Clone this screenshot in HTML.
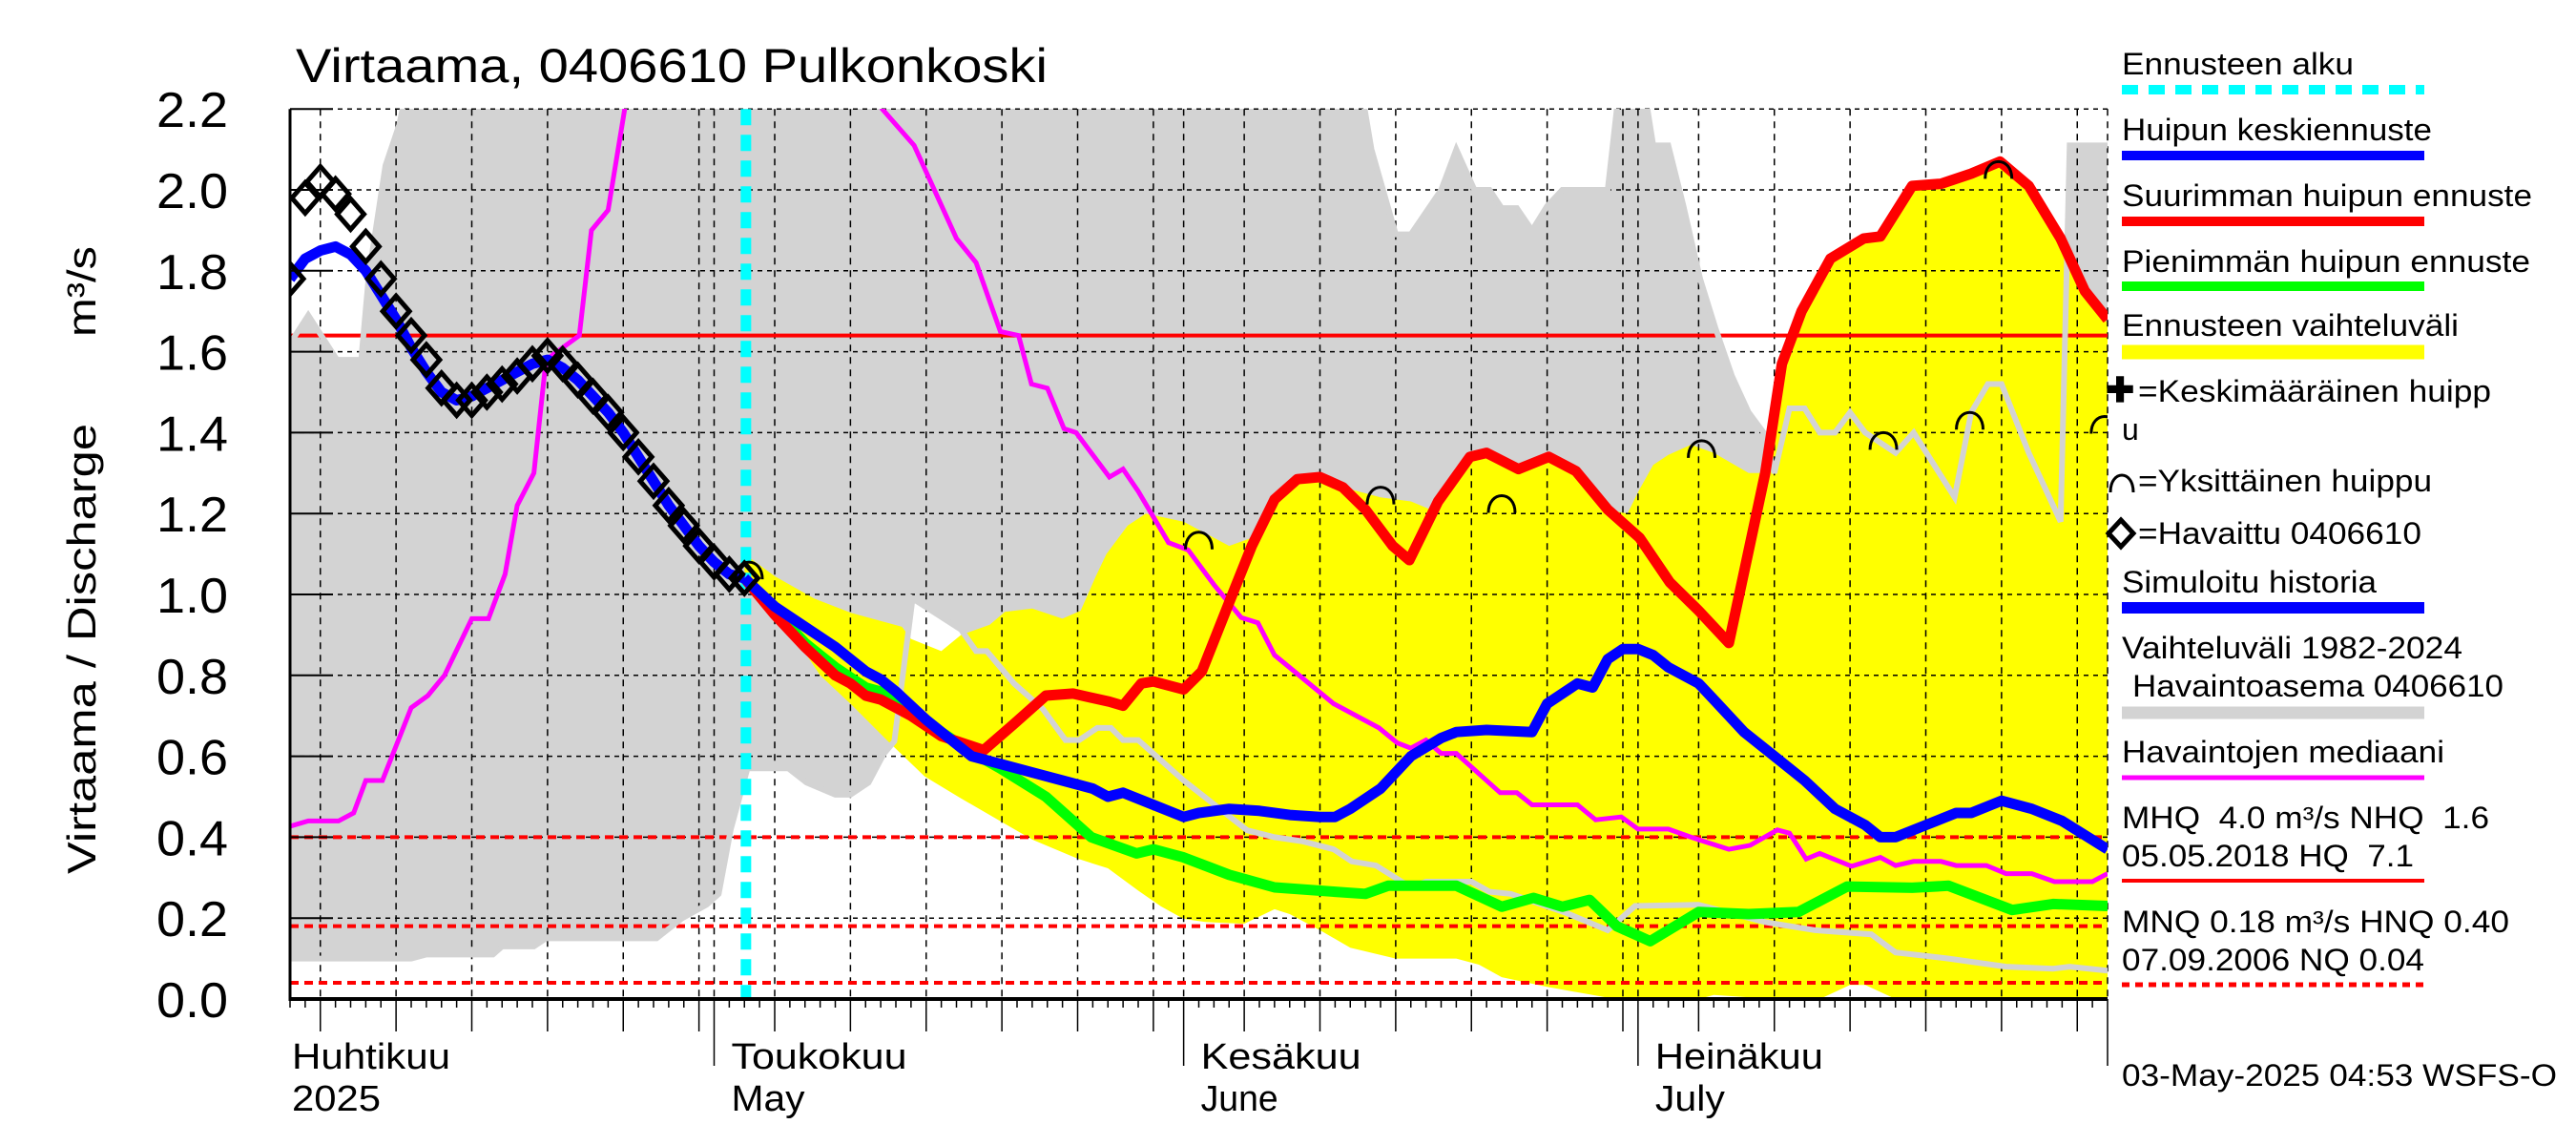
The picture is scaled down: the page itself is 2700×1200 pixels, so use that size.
<!DOCTYPE html>
<html><head><meta charset="utf-8"><title>Virtaama 0406610 Pulkonkoski</title>
<style>html,body{margin:0;padding:0;background:#fff;}svg{display:block;font-family:"Liberation Sans",sans-serif;}</style>
</head><body>
<svg id="chart" xmlns="http://www.w3.org/2000/svg" width="2700" height="1200" viewBox="0 0 2700 1200">
<defs><clipPath id="plotclip"><rect x="304" y="114" width="1905" height="933"/></clipPath></defs>
<rect x="0" y="0" width="2700" height="1200" fill="#fff"/>
<g id="bands" clip-path="url(#plotclip)"></g>
<g id="grid"></g>
<g id="series" clip-path="url(#plotclip)"></g>
<g id="axes"></g>
<text x="310" y="86" font-size="50" textLength="788" lengthAdjust="spacingAndGlyphs">Virtaama, 0406610 Pulkonkoski</text>
<text transform="translate(100,916) rotate(-90)" font-size="42" textLength="472" lengthAdjust="spacingAndGlyphs">Virtaama / Discharge</text>
<text transform="translate(100,353) rotate(-90)" font-size="42" textLength="95" lengthAdjust="spacingAndGlyphs">m³/s</text>
<g id="legend" font-size="32">
<text x="2224" y="78" textLength="243" lengthAdjust="spacingAndGlyphs">Ennusteen alku</text>
<line x1="2224" y1="94" x2="2541" y2="94" stroke="#00ffff" stroke-width="10" stroke-dasharray="17,11"/>
<text x="2224" y="147" textLength="325" lengthAdjust="spacingAndGlyphs">Huipun keskiennuste</text>
<line x1="2224" y1="163" x2="2541" y2="163" stroke="#0000ff" stroke-width="10"/>
<text x="2224" y="216" textLength="430" lengthAdjust="spacingAndGlyphs">Suurimman huipun ennuste</text>
<line x1="2224" y1="232" x2="2541" y2="232" stroke="#ff0000" stroke-width="10"/>
<text x="2224" y="285" textLength="428" lengthAdjust="spacingAndGlyphs">Pienimmän huipun ennuste</text>
<line x1="2224" y1="300" x2="2541" y2="300" stroke="#00ff00" stroke-width="10"/>
<text x="2224" y="352" textLength="353" lengthAdjust="spacingAndGlyphs">Ennusteen vaihteluväli</text>
<line x1="2224" y1="369" x2="2541" y2="369" stroke="#ffff00" stroke-width="15"/>
<text x="2207" y="421" font-size="36" font-weight="bold">✚</text>
<text x="2241" y="421" textLength="370" lengthAdjust="spacingAndGlyphs">=Keskimääräinen huipp</text>
<text x="2224" y="461">u</text>
<path d="M2212 516 C2212 492,2236 492,2236 516" fill="none" stroke="#000" stroke-width="3"/>
<text x="2241" y="515" textLength="308" lengthAdjust="spacingAndGlyphs">=Yksittäinen huippu</text>
<path d="M2223 545 L2236 559 L2223 573 L2210 559 Z" fill="none" stroke="#000" stroke-width="5"/>
<text x="2241" y="570" textLength="297" lengthAdjust="spacingAndGlyphs">=Havaittu 0406610</text>
<text x="2224" y="621" textLength="267" lengthAdjust="spacingAndGlyphs">Simuloitu historia</text>
<line x1="2224" y1="637" x2="2541" y2="637" stroke="#0000ff" stroke-width="12"/>
<text x="2224" y="690" textLength="357" lengthAdjust="spacingAndGlyphs">Vaihteluväli 1982-2024</text>
<text x="2235" y="730" textLength="389" lengthAdjust="spacingAndGlyphs">Havaintoasema 0406610</text>
<line x1="2224" y1="747" x2="2541" y2="747" stroke="#d3d3d3" stroke-width="13"/>
<text x="2224" y="799" textLength="338" lengthAdjust="spacingAndGlyphs">Havaintojen mediaani</text>
<line x1="2224" y1="815" x2="2541" y2="815" stroke="#ff00ff" stroke-width="5"/>
<text x="2224" y="868" textLength="385" lengthAdjust="spacingAndGlyphs" xml:space="preserve">MHQ  4.0 m³/s NHQ  1.6</text>
<text x="2224" y="908" textLength="306" lengthAdjust="spacingAndGlyphs" xml:space="preserve">05.05.2018 HQ  7.1</text>
<line x1="2224" y1="923" x2="2541" y2="923" stroke="#ff0000" stroke-width="4"/>
<text x="2224" y="977" textLength="406" lengthAdjust="spacingAndGlyphs">MNQ 0.18 m³/s HNQ 0.40</text>
<text x="2224" y="1017" textLength="317" lengthAdjust="spacingAndGlyphs">07.09.2006 NQ 0.04</text>
<line x1="2224" y1="1032" x2="2541" y2="1032" stroke="#ff0000" stroke-width="5" stroke-dasharray="8,6"/>
<text x="2224" y="1138" textLength="456" lengthAdjust="spacingAndGlyphs">03-May-2025 04:53 WSFS-O</text>
</g>
</svg>
<script>
// ---- data (days since 1 April 2025, discharge m3/s) ----
const obsDays = [2,3,4,5,6,7,8,9,10,11,12,13,14,15,16,17,18,19,20,21,22,23,24,25,26,27,28,29,30,31,32];
const obsValues = [1.78,1.98,2.02,1.99,1.94,1.86,1.78,1.70,1.64,1.58,1.51,1.48,1.48,1.50,1.52,1.54,1.57,1.59,1.57,1.53,1.49,1.45,1.40,1.34,1.28,1.22,1.17,1.12,1.08,1.05,1.04];
const simDays = [2,3,4,5,6,7,8,9,10,11,12,13,14,15,16,17,18,19,20,21,22,23,24,25,26,27,28,29,30,31,32];
const simValues = [1.78,1.83,1.85,1.86,1.84,1.80,1.74,1.68,1.61,1.55,1.50,1.48,1.49,1.51,1.53,1.55,1.57,1.58,1.56,1.53,1.49,1.45,1.40,1.34,1.28,1.22,1.17,1.12,1.08,1.05,1.04];
const meanDays = [32,34,36,38,40,41,42,44,46,47,49,51,53,55,56,57,59,61,62,64,66,68,70,71,72,74,76,78,79,81,84,85,87,88,89,90,91,92,93,95,96,98,100,102,104,106,107,108,110,112,113,115,117,119,122];
const meanValues = [1.04,0.97,0.92,0.87,0.81,0.79,0.76,0.69,0.63,0.60,0.58,0.56,0.54,0.52,0.50,0.51,0.48,0.45,0.46,0.47,0.465,0.455,0.45,0.45,0.47,0.52,0.60,0.645,0.66,0.665,0.66,0.73,0.78,0.77,0.84,0.865,0.865,0.85,0.82,0.78,0.74,0.66,0.60,0.54,0.47,0.43,0.40,0.40,0.43,0.46,0.46,0.49,0.47,0.44,0.37];
const maxDays = [32,34,36,38,39,40,41,43,45,47.8,49.8,51.9,53.7,56.1,57,58.2,59,61,62.2,64,65.5,67,68.5,70,71.5,73,74.8,75.9,77.8,79.9,81,83.1,85.1,86.9,89,91.1,93.1,95,97,99.4,100.5,101.8,103.7,105.9,107,109.1,111,113,114.9,116.8,118.9,120.5,122];
const maxValues = [1.04,0.95,0.87,0.80,0.78,0.75,0.74,0.70,0.65,0.615,0.68,0.75,0.755,0.735,0.725,0.78,0.785,0.765,0.81,0.98,1.12,1.235,1.285,1.29,1.265,1.21,1.12,1.085,1.23,1.34,1.35,1.31,1.34,1.305,1.21,1.14,1.03,0.96,0.88,1.30,1.57,1.70,1.83,1.88,1.885,2.01,2.015,2.04,2.07,2.01,1.88,1.75,1.68];
const minDays = [32,34,36,38,40,41,43,45,47,48.9,51.9,54.9,57.9,59,61,64,67,71,73,74.5,79,82,84.1,86,87.8,89.6,91.8,95,98.3,101.6,104.8,109.1,111.5,115.7,118.4,122];
const minValues = [1.04,0.96,0.88,0.82,0.77,0.76,0.72,0.66,0.61,0.57,0.50,0.40,0.36,0.37,0.35,0.307,0.276,0.265,0.26,0.28,0.28,0.228,0.25,0.228,0.245,0.18,0.143,0.215,0.21,0.215,0.278,0.275,0.28,0.22,0.235,0.23];
const rangeUpDays = [32,34,36.6,39,42.4,43,45,46.3,48.2,49.2,51,53,54.2,55.2,55.9,57.3,58.5,61,64,65.5,67,68.5,70,72,74,76,77.3,79.9,81,83,85,87,89,90.3,91.1,92,93,94.5,96,98.3,99.4,100.5,101.8,103.7,106,107,109,111,113,114.9,116.8,118.9,120.5,122];
const rangeUpValues = [1.10,1.045,0.99,0.955,0.92,0.89,0.86,0.90,0.925,0.957,0.965,0.94,0.96,1.045,1.10,1.17,1.20,1.18,1.12,1.14,1.24,1.29,1.29,1.26,1.24,1.23,1.21,1.34,1.36,1.32,1.34,1.31,1.21,1.20,1.26,1.32,1.345,1.37,1.35,1.30,1.30,1.57,1.70,1.83,1.88,1.885,2.01,2.015,2.04,2.07,2.01,1.88,1.75,1.67];
const rangeLowDays = [32,32.5,35,37,39,41.4,43.9,46.3,49.2,51,54,56,58,59.5,61,62.5,65,67,68,70,72,75,79,80.5,82,85,88,89.5,95,96,100,103,105,106,108,122];
const rangeLowValues = [1.04,1.007,0.913,0.80,0.73,0.64,0.55,0.496,0.433,0.394,0.347,0.323,0.268,0.229,0.198,0.19,0.186,0.222,0.21,0.17,0.127,0.10,0.10,0.085,0.054,0.03,0.01,0.0,0.0,0.01,0.0,0.0,0.035,0.035,0.0,0.0];
const histUpDays = [2,3.2,5.1,6.7,7.2,8.3,9.2,10,72.5,73.4,75,76,78,79,80.2,81.2,82,83,84,85,86,89,89.9,91.2,92,93,94,95.1,96.1,97.2,98.3,99.3,100,101,102,103,104,105,106,108,109.2,111.9,113,114.1,115,116.8,118.9,119.5,122];
const histUpValues = [1.62,1.69,1.58,1.58,1.79,2.06,2.16,2.3,2.3,2.10,1.89,1.89,2.0,2.10,2.0,2.0,1.955,1.955,1.90,1.96,2.0,2.0,2.3,2.3,2.11,2.11,1.96,1.78,1.66,1.54,1.45,1.40,1.30,1.46,1.46,1.40,1.40,1.45,1.40,1.35,1.40,1.24,1.45,1.52,1.52,1.35,1.18,2.11,2.11];
const histLowDays = [2,10,11,15.4,16,18.1,18.9,26.2,27.9,29.5,30.3,31.1,32.2,34.9,36.1,38,39,40.2,41.2,41.9,43.1,46.3,47.3,48,49.8,51.7,53.2,54.1,55.3,56.2,57,58,61,65.2,67,68.8,70.9,72.1,73.7,76,77,80,81.2,82.6,86.3,89,90.8,95,99.4,102.7,106.4,108,111.5,115.3,118.4,119.5,122];
const histLowValues = [0.10,0.10,0.11,0.11,0.13,0.13,0.15,0.15,0.20,0.233,0.26,0.42,0.57,0.57,0.535,0.505,0.505,0.535,0.606,0.637,0.99,0.913,0.86,0.86,0.78,0.717,0.64,0.64,0.67,0.67,0.64,0.64,0.54,0.417,0.40,0.39,0.37,0.34,0.33,0.276,0.29,0.29,0.265,0.26,0.212,0.17,0.23,0.233,0.19,0.17,0.16,0.115,0.10,0.08,0.075,0.08,0.07];
const medianDays = [2,3.2,5.2,6.2,7,8.1,10,11.1,12.2,14,15.1,16.2,17,18.1,18.9,21.1,21.9,23,24.1,25.5,39.5,41.1,43.2,46,47.3,48.9,50.1,50.95,52,53.1,53.9,56.1,57,58,60,61.3,63,64.8,65.9,67,70.9,73.9,75.1,76,77,78,79,81.9,83,84,87,88.2,89.9,91,93,94.5,97,98.4,100.2,101,102.1,103,105.1,107,108,109.2,111,112,114,115.3,117,118.5,121,122];
const medianValues = [0.427,0.44,0.44,0.46,0.54,0.54,0.72,0.75,0.80,0.94,0.94,1.05,1.22,1.30,1.58,1.64,1.90,1.95,2.2,2.7,2.7,2.2,2.11,1.88,1.82,1.65,1.64,1.52,1.51,1.41,1.40,1.29,1.31,1.255,1.128,1.11,1.024,0.943,0.93,0.85,0.73,0.67,0.633,0.62,0.64,0.607,0.607,0.51,0.51,0.48,0.48,0.443,0.45,0.42,0.42,0.40,0.37,0.38,0.418,0.41,0.346,0.36,0.328,0.35,0.33,0.34,0.34,0.33,0.33,0.31,0.31,0.29,0.29,0.31];
const peakDays = [32.3,62,74,82,95.2,107.2,112.9,114.8,121.8];
const peakValues = [1.08,1.154,1.265,1.244,1.38,1.40,1.45,2.07,1.44];
const forecastStartDay = 32.1;
const refLevels = [1.64,0.40,0.18,0.04];
const yTicks = [0,0.2,0.4,0.6,0.8,1.0,1.2,1.4,1.6,1.8,2.0,2.2];
const yTickLabels = ["0.0","0.2","0.4","0.6","0.8","1.0","1.2","1.4","1.6","1.8","2.0","2.2"];
const monthStarts = [0,30,61,91,122];
const monthLabels = [["Huhtikuu","2025"],["Toukokuu","May"],["Kesäkuu","June"],["Heinäkuu","July"]];

// ---- scales ----
const X0 = 304, DAYPX = 15.875, Y0 = 1047, VPX = 424;
const X = d => X0 + (d - 2) * DAYPX;
const Y = v => Y0 - VPX * v;
const NS = "http://www.w3.org/2000/svg";
function mk(tag, attrs, parent) {
  const el = document.createElementNS(NS, tag);
  for (const k in attrs) el.setAttribute(k, attrs[k]);
  parent.appendChild(el);
  return el;
}
function pts(days, vals) { return days.map((d, i) => X(d).toFixed(1) + "," + Y(vals[i]).toFixed(1)); }
function band(upD, upV, loD, loV) { return "M" + pts(upD, upV).concat(pts(loD, loV).reverse()).join(" L") + " Z"; }
function line(days, vals) { return "M" + pts(days, vals).join(" L"); }

const gB = document.getElementById("bands");
const gG = document.getElementById("grid");
const gS = document.getElementById("series");
const gA = document.getElementById("axes");

let e = mk("path", {d: band(histUpDays, histUpValues, histLowDays, histLowValues), fill: "#d3d3d3"}, gB);


e = mk("path", {d: band(rangeUpDays, rangeUpValues, rangeLowDays, rangeLowValues), fill: "#ffff00"}, gB);



yTicks.forEach((v, i) => {
  if (v > 0) {
    const g = mk("line", {x1: X0, x2: X(122), y1: Y(v), y2: Y(v), stroke: "#000", "stroke-width": 1.5, "stroke-dasharray": "5,5"}, gG);
    
    
  }
});
const gridDays = [];
for (let m = 0; m < 4; m++) {
  gridDays.push(monthStarts[m]);
  for (let k = 5; k <= 30; k += 5) gridDays.push(monthStarts[m] + k - 1);
}
gridDays.push(122);
gridDays.forEach(d => {
  if (d < 2) return;
  const g = mk("line", {x1: X(d), x2: X(d), y1: Y(2.2), y2: Y0, stroke: "#000", "stroke-width": 1.5, "stroke-dasharray": "7,6"}, gG);
  
  
});

refLevels.forEach((v, i) => {
  const r = mk("line", {x1: X0, x2: X(122), y1: Y(v), y2: Y(v), stroke: "#ff0000", "stroke-width": 4, "stroke-dasharray": i === 0 ? "none" : "9,6"}, gS);
  
  
});

e = mk("path", {d: line(histUpDays, histUpValues), fill: "none", stroke: "#d3d3d3", "stroke-width": 6}, gS);


e = mk("path", {d: line(histLowDays, histLowValues), fill: "none", stroke: "#d3d3d3", "stroke-width": 6}, gS);



e = mk("line", {x1: X(forecastStartDay), x2: X(forecastStartDay), y1: Y(2.2), y2: Y0, stroke: "#00ffff", "stroke-width": 11, "stroke-dasharray": "17,10"}, gS);



e = mk("path", {d: line(medianDays, medianValues), fill: "none", stroke: "#ff00ff", "stroke-width": 5}, gS);


e = mk("path", {d: line(minDays, minValues), fill: "none", stroke: "#00ff00", "stroke-width": 11, "stroke-linejoin": "round"}, gS);


e = mk("path", {d: line(maxDays, maxValues), fill: "none", stroke: "#ff0000", "stroke-width": 11, "stroke-linejoin": "round"}, gS);


e = mk("path", {d: line(meanDays, meanValues), fill: "none", stroke: "#0000ff", "stroke-width": 11, "stroke-linejoin": "round"}, gS);


e = mk("path", {d: line(simDays, simValues), fill: "none", stroke: "#0000ff", "stroke-width": 11, "stroke-linejoin": "round"}, gS);



obsDays.forEach((d, i) => {
  const x = X(d), y = Y(obsValues[i]);
  const p = mk("path", {d: `M${x} ${y-16} L${x+14} ${y} L${x} ${y+16} L${x-14} ${y} Z`, fill: "none", stroke: "#000", "stroke-width": 5}, gS);
  
  
});
peakDays.forEach((d, i) => {
  const x = X(d), y = Y(peakValues[i]);
  const p = mk("path", {d: `M${x-14} ${y+18} C${x-14} ${y-6},${x+14} ${y-6},${x+14} ${y+18}`, fill: "none", stroke: "#000", "stroke-width": 3}, gS);
  
  
});

e = mk("line", {x1: X0, x2: X0, y1: Y(2.2), y2: Y0 + 2, stroke: "#000", "stroke-width": 3}, gA);


e = mk("line", {x1: X0 - 1, x2: X(122), y1: Y0, y2: Y0, stroke: "#000", "stroke-width": 4}, gA);


yTicks.forEach((v, i) => {
  const t = mk("line", {x1: X0, x2: X0 + 45, y1: Y(v), y2: Y(v), stroke: "#000", "stroke-width": 2}, gA);
  
  
  const l = mk("text", {x: 239, y: Y(v) + 19, "font-size": 52, "text-anchor": "end", textLength: 75, lengthAdjust: "spacingAndGlyphs"}, gA);
  l.textContent = yTickLabels[i];
  
  
});
for (let d = 2; d <= 122; d++) {
  let len = 9;
  if (gridDays.includes(d)) len = 34;
  if (monthStarts.includes(d)) len = 70;
  const t = mk("line", {x1: X(d), x2: X(d), y1: Y0, y2: Y0 + len, stroke: "#000", "stroke-width": 1.5}, gA);
  
  
}
const labelLens = [[166, 93], [184, 77], [168, 81], [176, 73]];
monthLabels.forEach((lab, i) => {
  const x0 = i === 0 ? 306 : X(monthStarts[i]) + 18;
  const t1 = mk("text", {x: x0, y: 1120, "font-size": 38, textLength: labelLens[i][0], lengthAdjust: "spacingAndGlyphs"}, gA);
  t1.textContent = lab[0];
  
  
  const t2 = mk("text", {x: x0, y: 1164, "font-size": 38, textLength: labelLens[i][1], lengthAdjust: "spacingAndGlyphs"}, gA);
  t2.textContent = lab[1];
  
  
});
</script>
</body></html>
